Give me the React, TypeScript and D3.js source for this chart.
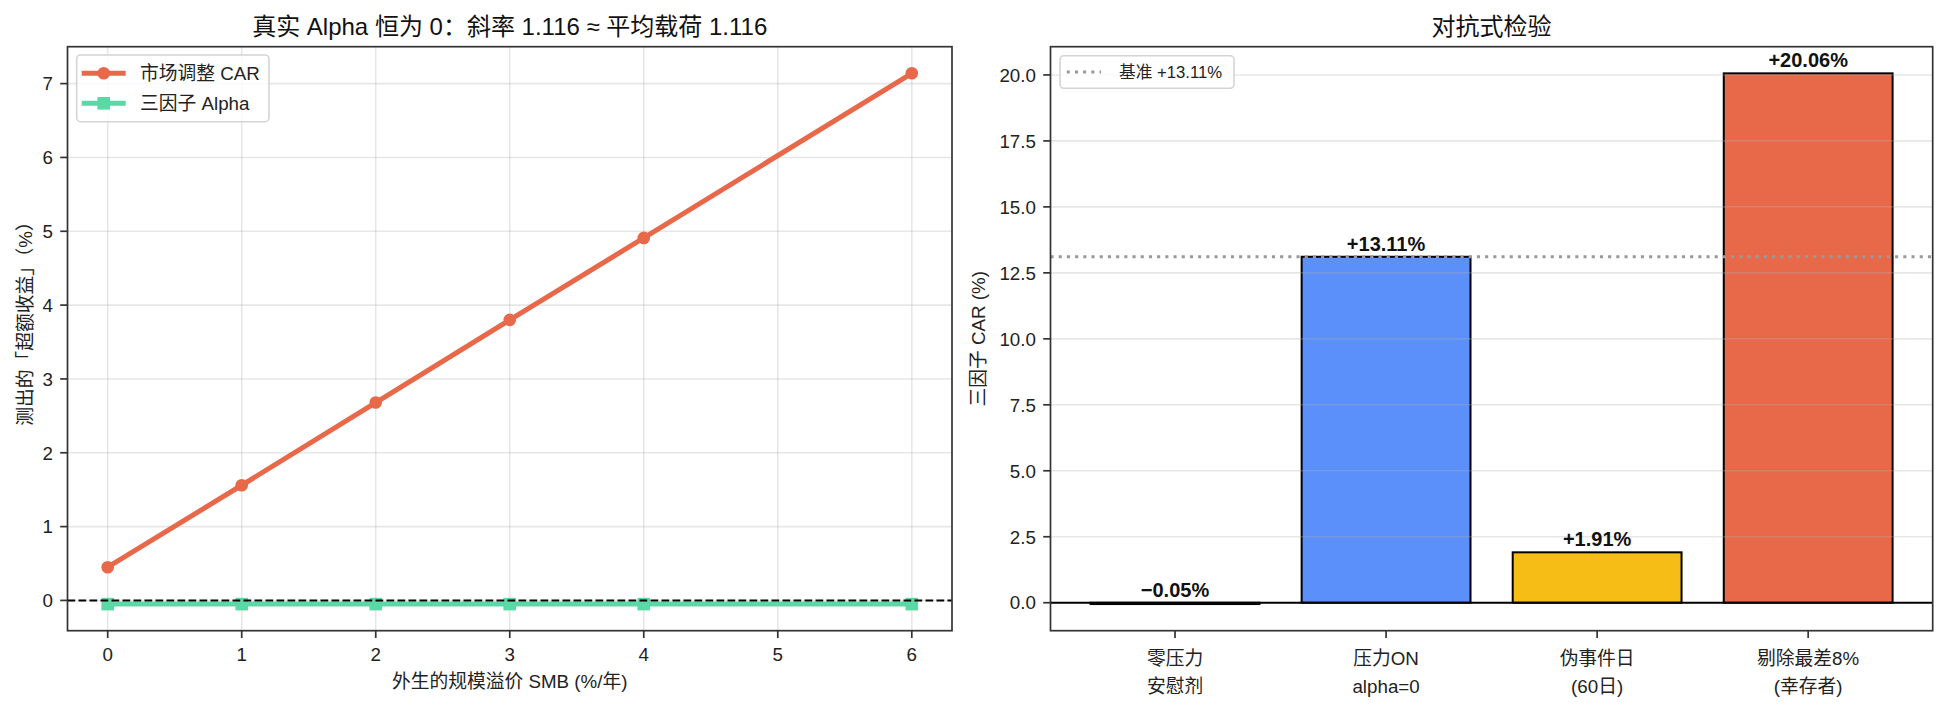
import React from "react";
import * as d3 from "d3";

// ---------- data ----------
const smbPremium = [0, 1, 2, 3, 4, 6];
const marketAdjCar = [0.45, 1.56, 2.68, 3.8, 4.91, 7.14];
const threeFactorAlpha = [-0.05, -0.05, -0.05, -0.05, -0.05, -0.05];
const leftXTicks = [0, 1, 2, 3, 4, 5, 6];
const leftYTicks = [0, 1, 2, 3, 4, 5, 6, 7];

const testLine1 = ["零压力", "压力ON", "伪事件日", "剔除最差8%"];
const testLine2 = ["安慰剂", "alpha=0", "(60日)", "(幸存者)"];
const testValues = [-0.05, 13.11, 1.91, 20.06];
const testColors = ["#5D7092", "#5B8FF9", "#F6BD16", "#E8684A"];
const baselineValue = 13.11;
const rightYTicks = [0, 2.5, 5, 7.5, 10, 12.5, 15, 17.5, 20];

const FONT = "'Liberation Sans', 'Noto Sans CJK SC', sans-serif";
const SPINE = "#333333";
const CAR_COLOR = "#E8684A";
const ALPHA_COLOR = "#5AD8A6";

const fmtPct = (v: number) =>
  (v >= 0 ? "+" : "\u2212") + Math.abs(v).toFixed(2) + "%";

export default function App() {
  // left axes geometry
  const L = { x0: 67.5, x1: 952, y0: 46.7, y1: 630.7 };
  const lx = d3.scaleLinear().domain([-0.3, 6.3]).range([L.x0, L.x1]);
  const ly = d3.scaleLinear().domain([-0.41, 7.5]).range([L.y1, L.y0]);

  // right axes geometry
  const R = { x0: 1050.5, x1: 1932.7, y0: 46.7, y1: 630.7 };
  const rx = d3.scaleLinear().domain([-0.59, 3.59]).range([R.x0, R.x1]);
  const ry = d3.scaleLinear().domain([-1.06, 21.07]).range([R.y1, R.y0]);
  const barW = rx(0.8) - rx(0);

  const lineGen = d3
    .line<[number, number]>()
    .x((d) => lx(d[0]))
    .y((d) => ly(d[1]));
  const carPts = smbPremium.map((x, i) => [x, marketAdjCar[i]] as [number, number]);
  const alphaPts = smbPremium.map((x, i) => [x, threeFactorAlpha[i]] as [number, number]);

  const tickFs = 18.75;

  return (
    <svg
      width={1946}
      height={714}
      style={{ position: "absolute", left: 0, top: 0, background: "#fff" }}
      fontFamily={FONT}
    >
      <rect x={0} y={0} width={1946} height={714} fill="#fff" />

      {/* ================= LEFT CHART ================= */}
      <defs>
        <clipPath id="clipL">
          <rect x={L.x0} y={L.y0} width={L.x1 - L.x0} height={L.y1 - L.y0} />
        </clipPath>
        <clipPath id="clipR">
          <rect x={R.x0} y={R.y0} width={R.x1 - R.x0} height={R.y1 - R.y0} />
        </clipPath>
      </defs>

      {/* grid */}
      <g stroke="#b0b0b0" strokeOpacity={0.3} strokeWidth={1.6}>
        {leftXTicks.map((t) => (
          <line key={"gx" + t} x1={lx(t)} x2={lx(t)} y1={L.y0} y2={L.y1} />
        ))}
        {leftYTicks.map((t) => (
          <line key={"gy" + t} x1={L.x0} x2={L.x1} y1={ly(t)} y2={ly(t)} />
        ))}
      </g>

      <g clipPath="url(#clipL)">
        <path d={lineGen(carPts) || ""} fill="none" stroke={CAR_COLOR} strokeWidth={5} />
        {carPts.map((p, i) => (
          <circle key={"c" + i} cx={lx(p[0])} cy={ly(p[1])} r={6.3} fill={CAR_COLOR} />
        ))}
        <path d={lineGen(alphaPts) || ""} fill="none" stroke={ALPHA_COLOR} strokeWidth={5} />
        {alphaPts.map((p, i) => (
          <rect
            key={"s" + i}
            x={lx(p[0]) - 6.3}
            y={ly(p[1]) - 6.3}
            width={12.6}
            height={12.6}
            fill={ALPHA_COLOR}
          />
        ))}
        <line
          x1={L.x0}
          x2={L.x1}
          y1={ly(0)}
          y2={ly(0)}
          stroke="#000"
          strokeWidth={2.1}
          strokeDasharray="7.7,3.3"
        />
      </g>

      {/* spines */}
      <rect
        x={L.x0}
        y={L.y0}
        width={L.x1 - L.x0}
        height={L.y1 - L.y0}
        fill="none"
        stroke={SPINE}
        strokeWidth={1.7}
      />

      {/* x ticks */}
      {leftXTicks.map((t) => (
        <g key={"xt" + t}>
          <line x1={lx(t)} x2={lx(t)} y1={L.y1} y2={L.y1 + 7.3} stroke={SPINE} strokeWidth={1.7} />
          <text x={lx(t)} y={654} dy="0.36em" textAnchor="middle" fontSize={tickFs} fill="#222">
            {t}
          </text>
        </g>
      ))}
      {/* y ticks */}
      {leftYTicks.map((t) => (
        <g key={"yt" + t}>
          <line x1={L.x0 - 7.3} x2={L.x0} y1={ly(t)} y2={ly(t)} stroke={SPINE} strokeWidth={1.7} />
          <text x={L.x0 - 14.6} y={ly(t)} dy="0.36em" textAnchor="end" fontSize={tickFs} fill="#222">
            {t}
          </text>
        </g>
      ))}

      {/* axis labels */}
      <text x={(L.x0 + L.x1) / 2} y={681.7} dy="0.36em" textAnchor="middle" fontSize={tickFs} fill="#222">
        外生的规模溢价 SMB (%/年)
      </text>
      <text
        transform={`translate(25,319) rotate(-90)`}
        textAnchor="middle"
        dy="0.36em"
        fontSize={tickFs}
        fill="#222"
      >
        测出的「超额收益」（%）
      </text>

      {/* title */}
      <text x={(L.x0 + L.x1) / 2} y={35} textAnchor="middle" fontSize={24} fill="#111">
        真实 Alpha 恒为 0：斜率 1.116 ≈ 平均载荷 1.116
      </text>

      {/* legend */}
      <g>
        <rect
          x={76.7}
          y={55}
          width={192.3}
          height={66.7}
          rx={4}
          fill="#fff"
          fillOpacity={0.8}
          stroke="#d4d4d4"
          strokeWidth={1.6}
        />
        <line x1={81.7} x2={125.7} y1={73.3} y2={73.3} stroke={CAR_COLOR} strokeWidth={5} />
        <circle cx={103.7} cy={73.3} r={6.3} fill={CAR_COLOR} />
        <text x={140} y={73.3} dy="0.36em" fontSize={tickFs} fill="#222">
          市场调整 CAR
        </text>
        <line x1={81.7} x2={125.7} y1={103.3} y2={103.3} stroke={ALPHA_COLOR} strokeWidth={5} />
        <rect x={103.7 - 6.3} y={103.3 - 6.3} width={12.6} height={12.6} fill={ALPHA_COLOR} />
        <text x={140} y={103.3} dy="0.36em" fontSize={tickFs} fill="#222">
          三因子 Alpha
        </text>
      </g>

      {/* ================= RIGHT CHART ================= */}
      <g clipPath="url(#clipR)">
        {testValues.map((v, i) => {
          const yTop = ry(Math.max(v, 0));
          const yBot = ry(Math.min(v, 0));
          return (
            <rect
              key={"bar" + i}
              x={rx(i) - barW / 2}
              y={yTop}
              width={barW}
              height={Math.max(yBot - yTop, 0.5)}
              fill={testColors[i]}
              stroke="#000"
              strokeWidth={2}
            />
          );
        })}
        {/* grid (above bars) */}
        <g stroke="#b0b0b0" strokeOpacity={0.3} strokeWidth={1.6}>
          {rightYTicks.map((t) => (
            <line key={"rgy" + t} x1={R.x0} x2={R.x1} y1={ry(t)} y2={ry(t)} />
          ))}
        </g>
        <line x1={R.x0} x2={R.x1} y1={ry(0)} y2={ry(0)} stroke="#000" strokeWidth={1.8} />
        <line
          x1={R.x0}
          x2={R.x1}
          y1={ry(baselineValue)}
          y2={ry(baselineValue)}
          stroke="#999"
          strokeWidth={3.1}
          strokeDasharray="3.1,5.1"
        />
      </g>

      {/* value labels */}
      {testValues.map((v, i) => (
        <text
          key={"vl" + i}
          x={rx(i)}
          y={ry(Math.max(v, 0)) - 6}
          textAnchor="middle"
          fontSize={20}
          fontWeight="bold"
          fill="#111"
        >
          {fmtPct(v)}
        </text>
      ))}

      {/* spines */}
      <rect
        x={R.x0}
        y={R.y0}
        width={R.x1 - R.x0}
        height={R.y1 - R.y0}
        fill="none"
        stroke={SPINE}
        strokeWidth={1.7}
      />

      {/* y ticks */}
      {rightYTicks.map((t) => (
        <g key={"ryt" + t}>
          <line x1={R.x0 - 7.3} x2={R.x0} y1={ry(t)} y2={ry(t)} stroke={SPINE} strokeWidth={1.7} />
          <text x={R.x0 - 14.6} y={ry(t)} dy="0.36em" textAnchor="end" fontSize={tickFs} fill="#222">
            {t.toFixed(1)}
          </text>
        </g>
      ))}
      {/* x ticks */}
      {testLine1.map((c, i) => (
        <g key={"rxt" + i}>
          <line x1={rx(i)} x2={rx(i)} y1={R.y1} y2={R.y1 + 7.3} stroke={SPINE} strokeWidth={1.7} />
          <text x={rx(i)} y={658} dy="0.36em" textAnchor="middle" fontSize={tickFs} fill="#222">
            {c}
          </text>
          <text x={rx(i)} y={686} dy="0.36em" textAnchor="middle" fontSize={tickFs} fill="#222">
            {testLine2[i]}
          </text>
        </g>
      ))}

      <text
        transform={`translate(978,${(R.y0 + R.y1) / 2}) rotate(-90)`}
        textAnchor="middle"
        dy="0.36em"
        fontSize={tickFs}
        fill="#222"
      >
        三因子 CAR (%)
      </text>

      <text x={(R.x0 + R.x1) / 2} y={35} textAnchor="middle" fontSize={24} fill="#111">
        对抗式检验
      </text>

      {/* right legend */}
      <g>
        <rect
          x={1060}
          y={55.7}
          width={174}
          height={32.6}
          rx={4}
          fill="#fff"
          fillOpacity={0.8}
          stroke="#d4d4d4"
          strokeWidth={1.6}
        />
        <line
          x1={1066.7}
          x2={1101}
          y1={72}
          y2={72}
          stroke="#999"
          strokeWidth={3.1}
          strokeDasharray="3.1,5.1"
        />
        <text x={1119} y={72} dy="0.36em" fontSize={16.7} fill="#222">
          基准 +{baselineValue.toFixed(2)}%
        </text>
      </g>
    </svg>
  );
}
